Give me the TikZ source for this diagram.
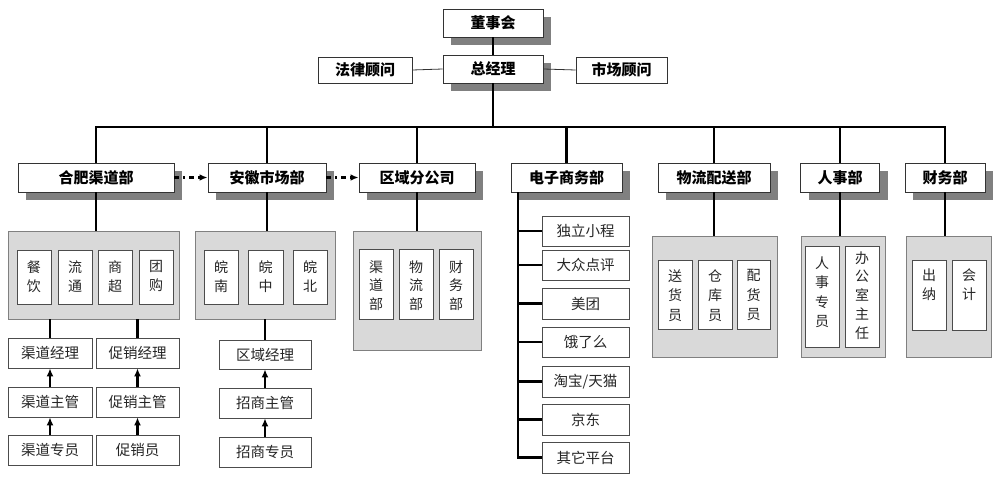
\documentclass[tikz,border=0pt]{standalone}
\usepackage{fontspec}
\newfontfamily\cjk{Noto Sans CJK SC}
\usetikzlibrary{shadows,arrows.meta}
\definecolor{shadowc}{HTML}{808080}
\definecolor{panelc}{HTML}{D9D9D9}
\definecolor{txt}{HTML}{262626}
\begin{document}
\begin{tikzpicture}[x=1pt,y=-1pt,
  sz/.style 2 args={minimum width=#1pt,minimum height=#2pt},
  dept/.style={draw=black!80,line width=0.8pt,fill=white,inner sep=0pt,
    font=\cjk\bfseries\fontsize{15}{16}\selectfont,
    drop shadow={shadow xshift=8pt,shadow yshift=-8pt,fill=shadowc,opacity=1}},
  adv/.style={draw=black!80,line width=0.8pt,fill=white,inner sep=0pt,
    font=\cjk\bfseries\fontsize{15}{16}\selectfont},
  panel/.style={draw=black!50,fill=panelc,line width=0.8pt,inner sep=0pt},
  ibox/.style={draw=black!70,fill=white,line width=0.8pt,inner sep=0pt},
  vt/.style={inner sep=0pt,align=center,anchor=north,text=txt,
    font=\cjk\fontsize{14}{19.5}\selectfont},
  vtt/.style={inner sep=0pt,align=center,anchor=north,text=txt,
    font=\cjk\fontsize{14}{18.8}\selectfont},
  item/.style={draw=black!70,fill=white,line width=0.8pt,inner sep=0pt,text=txt,
    font=\cjk\fontsize{14.5}{16}\selectfont},
  main/.style={line width=2.8pt},
  thin/.style={line width=0.8pt,draw=black!80},
  up/.style={line width=2.2pt,-{Latex[length=8pt,width=7pt]}},
  dd/.style={line width=2pt,dash pattern=on 5pt off 4pt on 2pt off 4pt,-{Latex[length=8pt,width=6.5pt]}}]
\useasboundingbox[fill=white] (0,0) rectangle (1000,481);

% top
\node[dept,sz={100}{28}] (dsh) at (493,23) {董事会};
\node[dept,sz={100}{28}] (zjl) at (493,69) {总经理};
\node[adv,sz={94}{26}] (fl) at (365,70) {法律顾问};
\node[adv,sz={91}{26}] (sc) at (621.5,70) {市场顾问};
\draw[thin] (fl.east) -- (zjl.west);
\draw[thin] (zjl.east) -- (sc.west);

% departments
\node[dept,sz={156}{29}] (hf) at (96,177.5) {合肥渠道部};
\node[dept,sz={118}{29}] (ah) at (267,177.5) {安徽市场部};
\node[dept,sz={116}{29}] (qy) at (417,177.5) {区域分公司};
\node[dept,sz={111}{29}] (ds) at (566.5,177.5) {电子商务部};
\node[dept,sz={112}{29}] (wl) at (714,177.5) {物流配送部};
\node[dept,sz={79}{29}] (rs) at (840,177.5) {人事部};
\node[dept,sz={80}{29}] (cw) at (945,177.5) {财务部};

\coordinate (busL) at (96,127);
\draw[main] (dsh.south) -- (zjl.north);
\draw[main] (zjl.south) -- (zjl.south |- busL);
\draw[main] (hf.north) -- (busL) -- (busL -| cw.north) -- (cw.north);
\foreach \n in {ah,qy,ds,wl,rs} \draw[main] (\n.north) -- (\n.north |- busL);

\draw[dd] (hf.east) -- (ah.west);
\draw[dd] (ah.east) -- (qy.west);

% panels
\node[panel,sz={171}{88}] (p1) at (93.5,275) {};
\node[panel,sz={140}{88}] (p2) at (265,275) {};
\node[panel,sz={128}{119}] (p3) at (417,290.5) {};
\node[panel,sz={125}{121}] (p4) at (714.5,296.5) {};
\node[panel,sz={84}{121}] (p5) at (843,296.5) {};
\node[panel,sz={85}{121}] (p6) at (948.5,296.5) {};
\draw[main] (hf.south) -- (hf.south |- p1.north);
\draw[main] (ah.south) -- (ah.south |- p2.north);
\draw[main] (qy.south) -- (qy.south |- p3.north);
\draw[main] (wl.south) -- (wl.south |- p4.north);
\draw[main] (rs.south) -- (rs.south |- p5.north);
\draw[main] (cw.south) -- (cw.south |- p6.north);

% panel 1
\node[ibox,sz={34}{54}] (a1) at (34,277) {};
\node[ibox,sz={34}{54}] (a2) at (75,277) {};
\node[ibox,sz={34}{54}] (a3) at (115,277) {};
\node[ibox,sz={34}{54}] (a4) at (156,277) {};
\node[vt] (ta1) at ([yshift=-10.5pt]a1.north) {餐\\饮};
\node[vt] (ta2) at ([yshift=-10.5pt]a2.north) {流\\通};
\node[vt] (ta3) at ([yshift=-10.5pt]a3.north) {商\\超};
\node[vt] (ta4) at ([yshift=-10.5pt]a4.north) {团\\购};
% panel 2
\node[ibox,sz={34}{54}] (b1) at (221,277) {};
\node[ibox,sz={35}{54}] (b2) at (265.5,277) {};
\node[ibox,sz={34}{54}] (b3) at (310,277) {};
\node[vt] (tb1) at ([yshift=-10.5pt]b1.north) {皖\\南};
\node[vt] (tb2) at ([yshift=-10.5pt]b2.north) {皖\\中};
\node[vt] (tb3) at ([yshift=-10.5pt]b3.north) {皖\\北};
% panel 3
\node[ibox,sz={34}{70}] (c1) at (376,284) {};
\node[ibox,sz={34}{70}] (c2) at (416,284) {};
\node[ibox,sz={34}{70}] (c3) at (456,284) {};
\node[vtt] (tc1) at ([yshift=-11.5pt]c1.north) {渠\\道\\部};
\node[vtt] (tc2) at ([yshift=-11.5pt]c2.north) {物\\流\\部};
\node[vtt] (tc3) at ([yshift=-11.5pt]c3.north) {财\\务\\部};
% panel 4
\node[ibox,sz={34}{69}] (d1) at (675,294.5) {};
\node[ibox,sz={34}{69}] (d2) at (715,294.5) {};
\node[ibox,sz={33}{69}] (d3) at (753.5,294.5) {};
\node[vt] (td1) at ([yshift=-9.5pt]d1.north) {送\\货\\员};
\node[vt] (td2) at ([yshift=-9.5pt]d2.north) {仓\\库\\员};
\node[vt] (td3) at ([yshift=-9.5pt]d3.north) {配\\货\\员};
% panel 5
\node[ibox,sz={34}{101}] (e1) at (822,296.5) {};
\node[ibox,sz={34}{101}] (e2) at (862,296.5) {};
\node[vt] (te1) at ([yshift=-10.5pt]e1.north) {人\\事\\专\\员};
\node[vtt] (te2) at ([yshift=-5.5pt]e2.north) {办\\公\\室\\主\\任};
% panel 6
\node[ibox,sz={34}{70}] (f1) at (929,295) {};
\node[ibox,sz={34}{70}] (f2) at (969,295) {};
\node[vt] (tf1) at ([yshift=-8.5pt]f1.north) {出\\纳};
\node[vt] (tf2) at ([yshift=-8.5pt]f2.north) {会\\计};

% staff chains
\node[item,sz={84}{30}] (qj) at (50,353) {渠道经理};
\node[item,sz={84}{30}] (qz) at (50,402) {渠道主管};
\node[item,sz={84}{30}] (qyy) at (50,450) {渠道专员};
\node[item,sz={83}{30}] (cj) at (137.5,353) {促销经理};
\node[item,sz={83}{30}] (cz) at (137.5,402) {促销主管};
\node[item,sz={83}{30}] (cy) at (137.5,450) {促销员};
\node[item,sz={92}{29}] (gj) at (265,354.5) {区域经理};
\node[item,sz={92}{30}] (gz) at (265,403) {招商主管};
\node[item,sz={92}{30}] (gy) at (265,452) {招商专员};
\draw[main] (qj.north |- p1.south) -- (qj.north);
\draw[main] (cj.north |- p1.south) -- (cj.north);
\draw[main] (gj.north |- p2.south) -- (gj.north);
\draw[up] (qz.north) -- (qj.south);
\draw[up] (qyy.north) -- (qz.south);
\draw[up] (cz.north) -- (cj.south);
\draw[up] (cy.north) -- (cz.south);
\draw[up] (gz.north) -- (gj.south);
\draw[up] (gy.north) -- (gz.south);

% e-commerce list
\node[item,sz={87}{30}] (i1) at (585.5,231) {独立小程};
\node[item,sz={87}{30}] (i2) at (585.5,265) {大众点评};
\node[item,sz={87}{31}] (i3) at (585.5,303.5) {美团};
\node[item,sz={87}{30}] (i4) at (585.5,342) {饿了么};
\node[item,sz={87}{31}] (i5) at (585.5,381.5) {淘宝/天猫};
\node[item,sz={87}{31}] (i6) at (585.5,419.5) {京东};
\node[item,sz={87}{31}] (i7) at (585.5,457.5) {其它平台};
\coordinate (tr) at ([xshift=-48.5pt]ds.south);
\draw[main] (tr) |- (i7.west);
\foreach \n in {i1,i2,i3,i4,i5,i6} \draw[main] (tr |- \n.west) -- (\n.west);
\end{tikzpicture}
\end{document}
